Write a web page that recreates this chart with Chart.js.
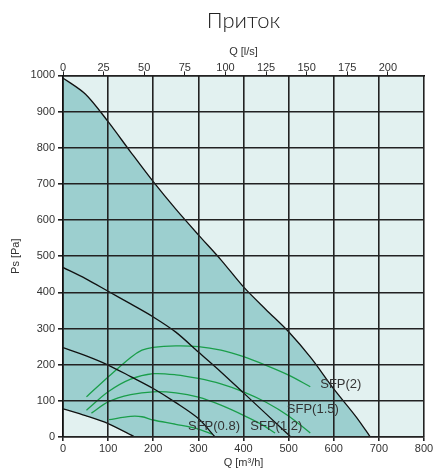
<!DOCTYPE html>
<html>
<head>
<meta charset="utf-8">
<script src="https://cdn.jsdelivr.net/npm/chart.js@4.4.1/dist/chart.umd.min.js"></script>
<style>
  html, body { margin: 0; padding: 0; background: #fff; }
</style>
</head>
<body>
<canvas id="pritok-chart" width="435" height="470"></canvas>
<script>
// fan curves, Q in m3/h, Ps in Pa
const qMax = [0, 50, 100, 150, 200, 250, 300, 350, 400, 450, 500, 550, 600, 650, 681];
const pMax = [993, 948, 872, 788, 706, 630, 559, 490, 415, 352, 291, 218, 133, 55, 0];

const qMid = [0, 50, 100, 150, 200, 250, 300, 350, 400, 450, 505];
const pMid = [469, 438, 403, 368, 332, 290, 235, 180, 122, 64, 0];

const qLow = [0, 50, 100, 150, 200, 250, 300, 337];
const pLow = [247, 225, 199, 167, 134, 95, 51, 0];

const qMin = [0, 50, 100, 159];
const pMin = [78, 59, 37, 0];

// SFP lines
const qSfp2 = [52, 100, 150, 175, 200, 250, 300, 350, 400, 450, 500, 548];
const pSfp2 = [111, 166, 220, 240, 248, 252, 250, 240, 222, 198, 171, 139];

const qSfp15 = [52, 100, 150, 200, 250, 300, 350, 400, 450, 500, 548];
const pSfp15 = [74, 125, 160, 175, 172, 162, 147, 125, 96, 58, 11];

const qSfp12 = [63, 100, 150, 200, 250, 300, 350, 400, 440, 470];
const pSfp12 = [66, 97, 117, 125, 122, 110, 88, 60, 35, 11];

const qSfp08 = [102, 150, 175, 200, 250, 300, 330];
const pSfp08 = [48, 57, 56, 47, 35, 22, 8];

const sfpNames = ['SFP(2)', 'SFP(1.5)', 'SFP(1.2)', 'SFP(0.8)'];

const LIGHT = '#e2f1f0';
const DARK = '#9ccfcf';
const GREEN = '#1a9e4a';
const GRID = '#222';

function pts(q, p) {
    return q.map((v, i) => ({ x: v, y: p[i] }));
}

function curve(q, p, extra) {
    return Object.assign({
        data: pts(q, p),
        borderColor: '#111',
        borderWidth: 1.3,
        pointRadius: 0,
        tension: 0.3,
        fill: false
    }, extra || {});
}

const areaBg = {
    id: 'areaBg',
    beforeDraw(chart) {
        const a = chart.chartArea;
        const ctx = chart.ctx;
        ctx.save();
        ctx.fillStyle = LIGHT;
        ctx.fillRect(a.left, a.top, a.right - a.left, a.bottom - a.top);
        ctx.restore();
    }
};

// SFP text labels, anchored in data units (left edge, middle)
const sfpLabels = {
    id: 'sfpLabels',
    afterDraw(chart) {
        const x = chart.scales.x, y = chart.scales.y;
        const at = [[570, 146], [496, 77], [415, 30], [277, 30]];
        const ctx = chart.ctx;
        ctx.save();
        ctx.font = '13px "Liberation Sans", Arial, sans-serif';
        ctx.fillStyle = '#333';
        ctx.textBaseline = 'middle';
        ctx.textAlign = 'left';
        sfpNames.forEach((t, i) => {
            ctx.fillText(t, x.getPixelForValue(at[i][0]), y.getPixelForValue(at[i][1]));
        });
        ctx.restore();
    }
};

const tickFont = { family: '"Liberation Sans", Arial, sans-serif', size: 11 };

new Chart(document.getElementById('pritok-chart'), {
    type: 'line',
    data: {
        datasets: [
            curve(qMin, pMin, { fill: 'origin', backgroundColor: LIGHT, order: 1 }),
            curve(qLow, pLow, { order: 2 }),
            curve(qMid, pMid, { order: 2 }),
            curve(qSfp2, pSfp2, { borderColor: GREEN, order: 2 }),
            curve(qSfp15, pSfp15, { borderColor: GREEN, order: 2 }),
            curve(qSfp12, pSfp12, { borderColor: GREEN, order: 2 }),
            curve(qSfp08, pSfp08, { borderColor: GREEN, order: 2 }),
            curve(qMax, pMax, { fill: 'origin', backgroundColor: DARK, order: 9 })
        ]
    },
    options: {
        responsive: false,
        animation: false,
        layout: { padding: { right: 11 } },
        plugins: {
            legend: { display: false },
            tooltip: { enabled: false },
            title: {
                display: true,
                text: 'Приток',
                fullSize: false,
                color: '#222',
                font: { family: 'Lato, "Open Sans", sans-serif', size: 22, weight: '300' },
                padding: { top: 8, bottom: 4 }
            }
        },
        scales: {
            x: {
                type: 'linear',
                min: 0,
                max: 800,
                afterFit: s => { s.height = 33; },
                ticks: { stepSize: 100, color: '#333', font: tickFont, padding: 1, maxRotation: 0 },
                grid: { z: 1, color: GRID, lineWidth: 1.6, tickLength: 4, tickColor: GRID },
                border: { z: 1, color: '#111', width: 1.6 },
                title: { display: true, text: 'Q [m³/h]', color: '#333', font: tickFont, padding: { top: 0, bottom: 0 } }
            },
            x2: {
                type: 'linear',
                position: 'top',
                min: 0,
                max: 800 / 3.6,
                afterFit: s => { s.height = 37; },
                ticks: { stepSize: 25, includeBounds: false, color: '#333', font: tickFont, padding: -3, maxRotation: 0 },
                grid: { z: 1, drawOnChartArea: false, tickLength: 4, tickColor: GRID },
                border: { z: 1, color: '#111', width: 1.6 },
                title: { display: true, text: 'Q [l/s]', color: '#333', font: tickFont, padding: { top: 7, bottom: 0 } }
            },
            y: {
                min: 0,
                max: 1000,
                afterFit: s => { s.width = 63; },
                ticks: { stepSize: 100, color: '#333', font: tickFont, padding: 3, callback: v => String(v) },
                grid: { z: 1, color: GRID, lineWidth: 1.6, tickLength: 5, tickColor: GRID },
                border: { z: 1, color: '#111', width: 1.6 },
                title: { display: true, text: 'Ps [Pa]', color: '#333', font: tickFont, padding: { top: 9, bottom: 0 } }
            }
        }
    },
    plugins: [areaBg, sfpLabels]
});
</script>
</body>
</html>
